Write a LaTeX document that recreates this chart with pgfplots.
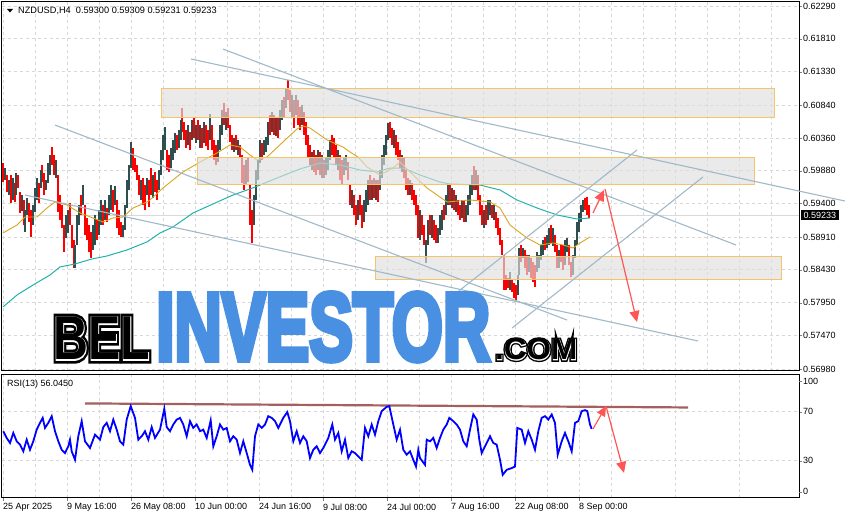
\documentclass[border=0pt]{standalone}
\usepackage{pgfplots}
\pgfplotsset{compat=1.18}
\usepackage{pgfplotstable}
\usepackage{fontspec}
\setmainfont{Liberation Sans}
\newfontfamily\wmblueF{Liberation Sans Bold}[FakeBold=6]
\newfontfamily\wmout{Liberation Sans Bold}[FakeBold=12]
\newfontfamily\wmmid{Liberation Sans Bold}[FakeBold=3]
\newfontfamily\wmcore{Liberation Sans Bold}
\usetikzlibrary{arrows.meta}

\definecolor{candred}{RGB}{255,0,0}
\definecolor{canddark}{RGB}{47,79,79}
\definecolor{maorange}{RGB}{218,165,32}
\definecolor{mateal}{RGB}{32,178,170}
\definecolor{tline}{RGB}{160,184,200}
\definecolor{zonefill}{RGB}{222,222,222}
\definecolor{zoneedge}{RGB}{245,196,105}
\definecolor{arrowred}{RGB}{255,85,85}
\definecolor{rsiblue}{RGB}{0,0,255}
\definecolor{rsilevel}{RGB}{165,95,95}
\definecolor{gridgray}{RGB}{215,215,215}
\definecolor{wmblue}{RGB}{74,144,226}

% H4 candles, high/low (x = bar position)
\pgfplotstableread{
x hi lo
3 0.59993 0.59716
7 0.59818 0.59569
11 0.59818 0.59408
15 0.59701 0.59423
18 0.59818 0.59628
20 0.59569 0.59262
24 0.59452 0.59086
29 0.59408 0.59130
31 0.59306 0.58911
39 0.59701 0.59408
42 0.59964 0.59716
44 0.59847 0.59525
52 0.60228 0.59964
54 0.60110 0.59818
58 0.59818 0.59277
60 0.59525 0.59159
62 0.59379 0.59042
64 0.59086 0.58692
70 0.59408 0.59086
72 0.59086 0.58750
74 0.58867 0.58457
81 0.59525 0.59233
85 0.59379 0.58940
87 0.59189 0.58867
89 0.59086 0.58692
91 0.58984 0.58604
97 0.59159 0.58867
103 0.59379 0.59086
107 0.59335 0.59130
113 0.59598 0.59277
117 0.59452 0.59042
119 0.59306 0.58940
121 0.59130 0.58911
133 0.60213 0.59891
135 0.60066 0.59862
137 0.59964 0.59745
139 0.59818 0.59525
143 0.59774 0.59379
145 0.59671 0.59306
149 0.59745 0.59350
151 0.59920 0.59525
155 0.59862 0.59569
157 0.59745 0.59452
167 0.60184 0.59891
169 0.60110 0.59862
177 0.60403 0.60184
182 0.60798 0.60447
184 0.60593 0.60330
186 0.60476 0.60213
190 0.60447 0.60184
194 0.60652 0.60359
198 0.60622 0.60330
202 0.60505 0.60213
206 0.60549 0.60242
208 0.60476 0.60184
212 0.60549 0.60184
214 0.60330 0.60037
216 0.60257 0.59964
224 0.60871 0.60549
228 0.60798 0.60505
230 0.60549 0.60301
232 0.60403 0.60184
236 0.60403 0.60184
240 0.60257 0.60081
242 0.60110 0.59701
244 0.59964 0.59598
248 0.60066 0.59716
250 0.59671 0.59086
252 0.59306 0.58823
262 0.60286 0.60037
270 0.60696 0.60403
274 0.60696 0.60403
278 0.60652 0.60359
284 0.60959 0.60652
288 0.61207 0.60915
290 0.61061 0.60740
294 0.60915 0.60505
298 0.60915 0.60549
300 0.60813 0.60476
304 0.60740 0.60403
306 0.60593 0.60257
308 0.60403 0.60066
310 0.60257 0.59964
314 0.60184 0.59862
316 0.60110 0.59818
320 0.60154 0.59818
324 0.60037 0.59774
332 0.60403 0.60110
334 0.60359 0.60066
336 0.60257 0.59964
340 0.60110 0.59745
342 0.60037 0.59671
348 0.60008 0.59745
350 0.59671 0.59379
354 0.59525 0.59233
356 0.59379 0.59086
360 0.59525 0.59233
362 0.59379 0.59042
370 0.59818 0.59452
374 0.59774 0.59481
378 0.59745 0.59423
390 0.60593 0.60359
392 0.60505 0.60257
396 0.60403 0.60110
398 0.60301 0.60037
400 0.60184 0.59920
404 0.60066 0.59774
406 0.59891 0.59598
408 0.59774 0.59525
412 0.59701 0.59452
414 0.59598 0.59379
416 0.59525 0.59233
418 0.59379 0.58896
422 0.59233 0.58940
424 0.59086 0.58794
430 0.59233 0.58940
434 0.59159 0.58867
436 0.59086 0.58823
444 0.59379 0.59159
450 0.59671 0.59379
454 0.59598 0.59306
458 0.59452 0.59233
460 0.59379 0.59159
464 0.59452 0.59130
474 0.59950 0.59598
478 0.59818 0.59452
480 0.59525 0.59233
482 0.59379 0.59086
486 0.59379 0.59086
492 0.59379 0.59189
496 0.59277 0.59042
498 0.59189 0.58940
500 0.59042 0.58794
502 0.58867 0.58648
504 0.58648 0.58135
506 0.58355 0.58135
508 0.58311 0.58165
512 0.58282 0.58106
514 0.58238 0.58018
516 0.58208 0.57989
521 0.58794 0.58545
525 0.58721 0.58457
527 0.58648 0.58355
531 0.58604 0.58311
533 0.58545 0.58252
535 0.58501 0.58179
545 0.58911 0.58721
551 0.59086 0.58823
555 0.58940 0.58692
557 0.58794 0.58457
561 0.58794 0.58545
563 0.58794 0.58428
569 0.58794 0.58501
571 0.58545 0.58326
585 0.59481 0.59306
587 0.59496 0.59233
589 0.59379 0.59189
}\dn

\pgfplotstableread{
x hi lo
5 0.59920 0.59745
9 0.59745 0.59525
13 0.59774 0.59452
16 0.59847 0.59525
22 0.59525 0.59291
25 0.59306 0.58984
27 0.59481 0.59233
33 0.59379 0.59086
35 0.59628 0.59277
37 0.59774 0.59452
41 0.59891 0.59628
46 0.59745 0.59598
48 0.59993 0.59701
50 0.60110 0.59818
56 0.60037 0.59774
66 0.59233 0.58896
68 0.59306 0.58969
75 0.58794 0.58457
77 0.59233 0.58794
79 0.59379 0.59086
83 0.59671 0.59379
93 0.59086 0.58721
95 0.59233 0.58794
99 0.59306 0.58940
101 0.59452 0.59086
105 0.59452 0.59159
109 0.59525 0.59233
111 0.59671 0.59306
115 0.59657 0.59379
123 0.59086 0.58911
125 0.59379 0.59013
127 0.59745 0.59335
129 0.59964 0.59598
131 0.60301 0.59920
141 0.59745 0.59452
147 0.59774 0.59525
153 0.59818 0.59481
159 0.59891 0.59598
161 0.60184 0.59818
163 0.60403 0.60037
165 0.60520 0.60184
171 0.60213 0.59920
173 0.60330 0.60037
175 0.60432 0.60140
179 0.60476 0.60213
181 0.60622 0.60330
188 0.60549 0.60257
192 0.60622 0.60330
196 0.60549 0.60286
200 0.60549 0.60213
204 0.60593 0.60286
210 0.60710 0.60330
218 0.60330 0.60008
220 0.60549 0.60184
222 0.60769 0.60403
226 0.60740 0.60476
234 0.60359 0.60154
238 0.60330 0.60110
246 0.60037 0.59671
254 0.59525 0.59086
256 0.59891 0.59452
258 0.60037 0.59745
260 0.60330 0.59993
264 0.60330 0.60110
266 0.60374 0.60154
268 0.60593 0.60257
272 0.60740 0.60447
276 0.60652 0.60388
280 0.60769 0.60476
282 0.60915 0.60622
286 0.61090 0.60798
292 0.60988 0.60652
296 0.60988 0.60696
302 0.60842 0.60549
312 0.60154 0.59891
318 0.60184 0.59891
322 0.60110 0.59774
326 0.60066 0.59818
328 0.60184 0.59891
330 0.60330 0.60037
338 0.60184 0.59891
344 0.60066 0.59818
346 0.60110 0.59891
352 0.59598 0.59335
358 0.59452 0.59159
364 0.59452 0.59130
366 0.59598 0.59277
368 0.59745 0.59379
372 0.59745 0.59452
376 0.59745 0.59452
380 0.59891 0.59598
382 0.60110 0.59774
384 0.60257 0.59964
386 0.60403 0.60110
388 0.60579 0.60330
394 0.60476 0.60213
402 0.60110 0.59862
410 0.59745 0.59525
420 0.59306 0.58867
426 0.58867 0.58530
428 0.59159 0.58794
432 0.59233 0.58896
438 0.59042 0.58823
440 0.59233 0.58940
442 0.59306 0.59013
446 0.59525 0.59233
448 0.59671 0.59379
452 0.59628 0.59335
456 0.59525 0.59277
462 0.59452 0.59189
466 0.59379 0.59130
468 0.59525 0.59233
470 0.59671 0.59379
472 0.59818 0.59525
476 0.59891 0.59598
484 0.59306 0.59042
488 0.59452 0.59159
490 0.59452 0.59233
494 0.59379 0.59159
510 0.58399 0.58135
518 0.58355 0.58062
519 0.58750 0.58355
523 0.58750 0.58604
529 0.58648 0.58399
537 0.58692 0.58399
539 0.58648 0.58457
541 0.58794 0.58574
543 0.58867 0.58648
547 0.58940 0.58750
549 0.59042 0.58794
553 0.59042 0.58779
559 0.58721 0.58457
565 0.58867 0.58501
567 0.58896 0.58692
573 0.58648 0.58355
575 0.58867 0.58604
577 0.59130 0.58794
579 0.59262 0.58984
581 0.59379 0.59130
583 0.59452 0.59277
}\up

\begin{document}
\begin{tikzpicture}
\path[use as bounding box] (0,0) rectangle (845pt,519pt);

\pgfplotsset{
  mtstyle/.style={
    scale only axis, anchor=south west, clip=false,
    xmin=2, xmax=799,
    axis line style={line width=1pt},
    tick align=outside, major tick length=3pt,
    ytick pos=right, yticklabel pos=right,
    ticklabel style={font=\fontsize{9}{10}\selectfont},
    yticklabel style={anchor=west, inner sep=0pt, xshift=1pt},
    grid=major,
    major grid style={gridgray, line width=0.8pt, dash pattern=on 3pt off 3pt},
    scaled y ticks=false,
  },
  candles/.style={draw=none, mark=none, forget plot,
    error bars/.cd, y dir=plus, y explicit, error mark=none,
    error bar style={solid, draw=#1, line width=1.7pt}},
}

% ---------------- price panel ----------------
\begin{axis}[mtstyle,
  at={(2pt,148pt)}, width=797pt, height=369pt,
  ymin=0.56950, ymax=0.62349,
  xtick={3,35,...,771}, xticklabels={}, xtick style={draw=none},
  ytick={0.5698,0.5747,0.5795,0.5843,0.5891,0.5940,0.5988,0.6036,0.6084,0.6133,0.6181,0.6229},
  yticklabels={0.56980,0.57470,0.57950,0.58430,0.58910,0.59400,0.59880,0.60360,0.60840,0.61330,0.61810,0.62290},
]
\draw[gray!30, line width=0.8pt] (axis cs:2,0.59233) -- (axis cs:799,0.59233);

\addplot[candles=candred]
  table[x=x, y=lo, y error plus expr=\thisrow{hi}-\thisrow{lo}] \dn;
\addplot[candles=canddark]
  table[x=x, y=lo, y error plus expr=\thisrow{hi}-\thisrow{lo}] \up;

% moving averages
\addplot[mateal, line width=1pt] coordinates {
(3,0.57887) (17,0.58062) (33,0.58208) (50,0.58355) (60,0.58472) (75,0.58516)
(92,0.58589) (107,0.58633) (127,0.58721) (147,0.58838) (160,0.58969) (173,0.59057)
(193,0.59262) (213,0.59394) (233,0.59525) (250,0.59613) (260,0.59671) (277,0.59774)
(300,0.59906) (320,0.59993) (340,0.59964) (360,0.59891) (377,0.59862) (390,0.59920)
(403,0.59920) (420,0.59818) (440,0.59715) (450,0.59686) (480,0.59671) (500,0.59598)
(517,0.59452) (537,0.59335) (557,0.59233) (577,0.59174) (590,0.59189)};
\addplot[maorange, line width=0.9pt] coordinates {
(3,0.58969) (17,0.59086) (25,0.59203) (37,0.59203) (47,0.59335) (55,0.59423)
(67,0.59379) (80,0.59262) (93,0.59189) (103,0.59130) (113,0.59189) (123,0.59203)
(133,0.59335) (147,0.59423) (150,0.59452) (163,0.59628) (183,0.59862) (200,0.60008)
(217,0.60140) (230,0.60257) (240,0.60227) (250,0.60110) (257,0.60037) (267,0.60081)
(283,0.60301) (297,0.60491) (303,0.60535) (310,0.60505) (327,0.60330) (343,0.60227)
(350,0.60154) (358,0.60081) (367,0.59935) (380,0.59818) (393,0.59920) (400,0.60008)
(410,0.59862) (427,0.59628) (447,0.59423) (470,0.59452) (490,0.59423) (500,0.59335)
(510,0.59086) (527,0.58896) (540,0.58794) (553,0.58823) (563,0.58794) (573,0.58750)
(580,0.58823) (590,0.58911)};

% zones
\draw[fill=zonefill, fill opacity=0.65, draw=zoneedge, line width=1pt]
  (axis cs:161,0.61076) rectangle (axis cs:774,0.60652);
\draw[fill=zonefill, fill opacity=0.65, draw=zoneedge, line width=1pt]
  (axis cs:197,0.60081) rectangle (axis cs:754,0.59686);
\draw[fill=zonefill, fill opacity=0.65, draw=zoneedge, line width=1pt]
  (axis cs:375,0.58618) rectangle (axis cs:781,0.58296);

% trend lines
\draw[tline, line width=1.1pt] (axis cs:223,0.61661) -- (axis cs:736,0.58794);
\draw[tline, line width=1.1pt] (axis cs:191,0.61515) -- (axis cs:845,0.59437);
\draw[tline, line width=1.1pt] (axis cs:55,0.60549) -- (axis cs:567,0.57696);
\draw[tline, line width=1.1pt] (axis cs:25,0.59525) -- (axis cs:698,0.57389);
\draw[tline, line width=1.1pt] (axis cs:445,0.57960) -- (axis cs:637,0.60184);
\draw[tline, line width=1.1pt] (axis cs:512,0.57579) -- (axis cs:703,0.59789);

% forecast arrows
\draw[arrowred, line width=1.2pt, -{Triangle[length=11pt,width=10pt]}]
  (axis cs:593,0.59262) -- (axis cs:604,0.59598);
\draw[arrowred, line width=1.2pt, -{Triangle[length=11pt,width=10pt]}]
  (axis cs:605,0.59613) -- (axis cs:637,0.57667);

\node[fill=black, text=white, anchor=west, inner xsep=2.5pt, inner ysep=1.5pt,
  font=\fontsize{9}{10}\selectfont] at (axis cs:801,0.59233) {0.59233};
\end{axis}

% ---------------- RSI panel ----------------
\begin{axis}[mtstyle,
  at={(2pt,21.5pt)}, width=797pt, height=122.5pt,
  ymin=0, ymax=100,
  xtick={3,67,...,579},
  xticklabels={25 Apr 2025,9 May 16:00,26 May 08:00,10 Jun 00:00,24 Jun 16:00,9 Jul 08:00,24 Jul 00:00,7 Aug 16:00,22 Aug 08:00,8 Sep 00:00},
  xticklabel style={anchor=north west, inner sep=0pt, yshift=-3pt},
  xtick pos=bottom,
  minor xtick={35,99,...,771}, minor tick length=0pt, grid=both,
  minor grid style={gridgray, line width=0.8pt, dash pattern=on 3pt off 3pt},
  ytick={30,70}, yticklabels={30,70},
  extra y ticks={4.8,95.1}, extra y tick labels={0,100},
  extra y tick style={grid=none},
]
\draw[rsilevel, line width=2.2pt] (axis cs:85,76.8) -- (axis cs:688,73.5);
\addplot[rsiblue, line width=1.8pt] coordinates {
(3.3,54.1) (6.7,48.6) (10,44.5) (13.3,52.7) (16.7,45.9) (20,43.1) (23.3,37.7)
(26.7,47.2) (30,39.0) (33.3,45.9) (36.7,55.4) (40,60.9) (42.7,65.0) (45,56.8)
(48.3,60.9) (51.7,66.4) (55,54.1) (58.3,45.9) (61.7,39.0) (65,36.3) (68.3,41.8)
(70,47.2) (71.7,37.7) (75,30.8) (78.3,50.0) (81.7,62.3) (85,45.9) (90,40.4)
(95,51.3) (100,47.2) (103.3,57.5) (106.7,60.9) (110,54.1) (113.3,63.6) (116.7,55.4)
(120,45.9) (123.3,43.1) (126.7,63.6) (130.7,74.6) (135,65.0) (138.3,47.2) (141.7,50.0)
(145,54.1) (148.3,47.2) (151.7,57.5) (155,48.6) (160,55.4) (164.3,72.4) (166.7,57.5)
(170,54.1) (173.3,59.6) (176.7,63.6) (180,65.0) (183.3,59.6) (186.7,50.0) (190,62.3)
(193.3,56.8) (196.7,59.6) (200,54.1) (203.3,55.4) (206.7,48.6) (210.7,63.0) (213.3,41.8)
(216.7,50.0) (220,59.6) (223.3,55.4) (226.7,56.8) (230,45.9) (233.3,50.0) (236.7,47.2)
(240,36.3) (243.3,45.9) (246.7,36.3) (250,26.7) (252.3,22.6) (255,50.0) (258.3,59.6)
(261.7,56.8) (265,59.6) (268.3,66.4) (271.7,65.0) (275,62.3) (278.3,56.8) (283.3,65.0)
(287.3,69.7) (290,62.3) (293.3,45.9) (296.7,54.1) (300,44.5) (303.3,50.0) (306.7,45.9)
(310,32.2) (313.3,39.0) (316.7,41.8) (320,36.3) (323.3,40.4) (328.3,48.6) (332.3,59.6)
(335,47.2) (338.3,52.7) (341.7,37.7) (345,47.2) (348.3,32.2) (351.7,37.7) (355,36.3)
(358.3,33.5) (361.7,30.8) (365,56.8) (368.3,50.0) (371.7,59.6) (375,51.3) (378.3,62.3)
(381.7,70.5) (386.7,74.0) (389.3,74.6) (393.3,59.6) (396.7,47.2) (400,55.4) (403.3,39.0)
(406.7,34.9) (410,37.7) (413.3,30.8) (416,25.3) (418.3,39.0) (420,32.2) (425,26.7)
(426.7,47.2) (430,45.9) (433.3,48.6) (436.7,40.4) (440,48.6) (443.3,55.4) (446.7,59.6)
(449.3,65.0) (453.3,62.3) (456.7,59.6) (460,55.4) (463.3,45.9) (466.7,41.8) (470,55.4)
(473.3,67.8) (476.7,63.6) (479.3,47.2) (481.7,36.3) (485,41.8) (490,50.0) (493.3,44.5)
(496.7,43.1) (500,30.8) (502.7,18.5) (506.7,22.6) (511.7,24.0) (515,25.3) (517.3,56.8)
(521.7,55.4) (525,44.5) (528.3,54.1) (531.7,47.2) (535,39.0) (538.3,54.1) (541.7,65.0)
(545,66.4) (548.3,63.6) (551.7,67.8) (555,60.9) (557.7,34.9) (561.7,45.9) (565,52.7)
(568.3,45.9) (571.7,37.7) (575,60.9) (578.3,62.3) (581.7,70.5) (585,71.3) (587.3,70.5)
(590,59.6) (591.7,56.0)};
\draw[arrowred, line width=1.2pt, -{Triangle[length=10pt,width=9pt]}]
  (axis cs:593,56.0) -- (axis cs:606,74.6);
\draw[arrowred, line width=1.2pt, -{Triangle[length=11pt,width=10pt]}]
  (axis cs:606,74.6) -- (axis cs:624,20.1);
\end{axis}

% header texts
\fill (7pt,510pt) -- (13pt,510pt) -- (10pt,506.5pt) -- cycle;
\node[anchor=west, inner sep=0pt, font=\fontsize{9.2}{10}\selectfont] at (18pt,508pt)
  {NZDUSD,H4\ \ 0.59300 0.59309 0.59231 0.59233};
\node[anchor=west, inner sep=0pt, font=\fontsize{9}{10}\selectfont] at (7pt,135pt)
  {RSI(13) 56.0450};

% watermark: inline letters for BEL and .COM, heavy blue INVESTOR
\newcommand\inline[2]{%
  \node[anchor=base west, inner sep=0pt, text=black] at (#1) {#2{\wmout}};
  \node[anchor=base west, inner sep=0pt, text=white] at (#1) {#2{\wmmid}};
  \node[anchor=base west, inner sep=0pt, text=black] at (#1) {#2{\wmcore}};}
\newcommand\bel[1]{\scalebox{0.78}[1]{\fontsize{62}{70}#1\selectfont BEL}}
\newcommand\com[1]{\scalebox{1.05}[1]{\fontsize{30}{34}#1\selectfont .COM}}
\inline{53pt,159pt}{\bel}
\inline{495pt,159pt}{\com}
\node[anchor=base west, inner sep=0pt, text=wmblue] at (156pt,159pt)
  {\scalebox{0.683}[1]{\fontsize{96}{100}\wmblueF\selectfont INVESTOR}};
\end{tikzpicture}
\end{document}
